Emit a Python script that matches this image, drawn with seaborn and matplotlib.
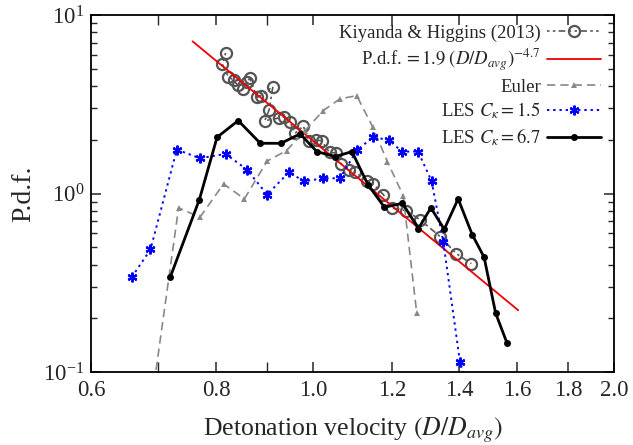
import numpy as np
import pandas as pd
import matplotlib
matplotlib.use("Agg")
import matplotlib.pyplot as plt
import seaborn as sns

# ---------------- data ----------------
kh_x = [0.818, 0.812, 0.823, 0.833, 0.841, 0.852, 0.860, 0.865, 0.879, 0.887,
        0.912, 0.904, 0.895, 0.924, 0.936, 0.948, 0.960, 0.978, 0.991, 1.007,
        1.020, 1.039, 1.055, 1.067, 1.086, 1.102, 1.132, 1.149, 1.176, 1.201,
        1.239, 1.281, 1.341, 1.391, 1.440]
kh_y = [6.14, 5.30, 4.52, 4.32, 4.05, 3.86, 4.23, 4.45, 3.46, 3.54,
        3.98, 2.94, 2.56, 2.65, 2.69, 2.53, 2.18, 2.39, 1.98, 1.99,
        1.98, 1.70, 1.69, 1.47, 1.35, 1.32, 1.18, 1.13, 0.987, 0.829,
        0.803, 0.711, 0.572, 0.461, 0.405]

fit_x = [0.758, 1.604]
fit_y = [7.13, 0.222]

euler_x = [0.691, 0.734, 0.771, 0.814, 0.854, 0.900, 0.941, 0.982, 1.024,
           1.064, 1.106, 1.148, 1.187, 1.231, 1.270]
euler_y = [0.073, 0.832, 0.737, 1.133, 0.934, 1.521, 1.741, 2.254, 2.917,
           3.393, 3.540, 2.352, 1.511, 0.974, 0.2135]

les15_x = [0.659, 0.688, 0.731, 0.771, 0.818, 0.859, 0.900, 0.946, 0.980,
           1.024, 1.064, 1.107, 1.148, 1.191, 1.227, 1.274, 1.314, 1.350,
           1.403, 1.45]
les15_y = [0.340, 0.486, 1.764, 1.577, 1.669, 1.363, 0.987, 1.316, 1.172,
           1.218, 1.218, 1.753, 2.068, 2.000, 1.719, 1.719, 1.175, 0.538,
           0.1135, 0.065]

les67_x = [0.720, 0.770, 0.802, 0.842, 0.886, 0.929, 0.971, 1.009, 1.053,
           1.094, 1.135, 1.179, 1.229, 1.275, 1.312, 1.353, 1.397, 1.443,
           1.483, 1.523, 1.563]
les67_y = [0.340, 0.926, 2.068, 2.564, 1.913, 1.913, 2.160, 1.719, 1.612,
           1.719, 1.123, 0.838, 0.882, 0.637, 0.832, 0.631, 0.934, 0.589,
           0.440, 0.2135, 0.1458]

x_ticks = [0.6, 0.8, 1.0, 1.2, 1.4, 1.6, 1.8, 2.0]
x_minor = [0.7, 0.9]

# ---------------- style ----------------
sns.set_style("ticks")
plt.rcParams["font.family"] = ["Liberation Serif", "DejaVu Serif"]
plt.rcParams["mathtext.fontset"] = "stix"
plt.rcParams["axes.linewidth"] = 1.3

fig = plt.figure(figsize=(6.33, 4.45), dpi=100)
ax = fig.add_axes([0.1438, 0.164, 0.8262, 0.802])

TICK_FS = 16.5
LEG_FS = 13.5

sns.lineplot(x=kh_x, y=kh_y, ax=ax, sort=False, estimator=None,
             color="#555555", linestyle=(0, (1.5, 2, 1.5, 2, 4, 2)), linewidth=1.2,
             marker="o", markersize=8, markerfacecolor="none",
             markeredgecolor="#555555", markeredgewidth=1.6,
             label="Kiyanda & Higgins (2013)")
sns.lineplot(x=fit_x, y=fit_y, ax=ax, sort=False, estimator=None,
             color="#ee0000", linewidth=1.3,
             label=r"P.d.f.$\,=1.9\;(D/D_{avg})^{-4.7}$")
sns.lineplot(x=euler_x, y=euler_y, ax=ax, sort=False, estimator=None,
             color="#888888", linestyle=(0, (5, 3)), linewidth=1.2,
             marker="^", markersize=4.5, markeredgewidth=0,
             label="Euler")
sns.lineplot(x=les15_x, y=les15_y, ax=ax, sort=False, estimator=None,
             color="#0000ff", linestyle=(0, (1.2, 2)), linewidth=1.4,
             marker=(6, 2, 0), markersize=7, markeredgewidth=1.6,
             markeredgecolor="#0000ff",
             label=r"LES $C_\kappa=1.5$")
sns.lineplot(x=les67_x, y=les67_y, ax=ax, sort=False, estimator=None,
             color="black", linewidth=2.0,
             marker="o", markersize=5, markeredgewidth=0,
             label=r"LES $C_\kappa=6.7$")

ax.set_xscale("log")
ax.set_yscale("log")
ax.set_xlim(0.6, 2.0)
ax.set_ylim(0.1, 10)

ax.set_xticks(x_ticks)
ax.set_xticklabels([f"{v:.1f}" for v in x_ticks])
ax.set_xticks(x_minor, minor=True)
ax.set_xticklabels([], minor=True)

ax.tick_params(axis="both", which="both", direction="in", top=True, right=True,
               labelsize=TICK_FS)
ax.tick_params(axis="both", which="major", length=7, width=1.1)
ax.tick_params(axis="both", which="minor", length=4, width=1.0)
ax.tick_params(axis="x", which="minor", length=7)
ax.tick_params(axis="x", pad=6)
ax.tick_params(axis="y", pad=5)

ax.set_xlabel(r"Detonation velocity $(D/D_{avg})$", fontsize=18.5, labelpad=10)
ax.set_ylabel("P.d.f.", fontsize=20, labelpad=5)

leg = ax.legend(loc="upper right", bbox_to_anchor=(0.975, 0.974), frameon=False,
                markerfirst=False, fontsize=LEG_FS, handlelength=2.9,
                handletextpad=0.3, labelspacing=0.28, borderpad=0, borderaxespad=0)

for side in ["top", "right", "left", "bottom"]:
    ax.spines[side].set_visible(True)
    ax.spines[side].set_color("black")

fig.savefig("out.png", dpi=100)
